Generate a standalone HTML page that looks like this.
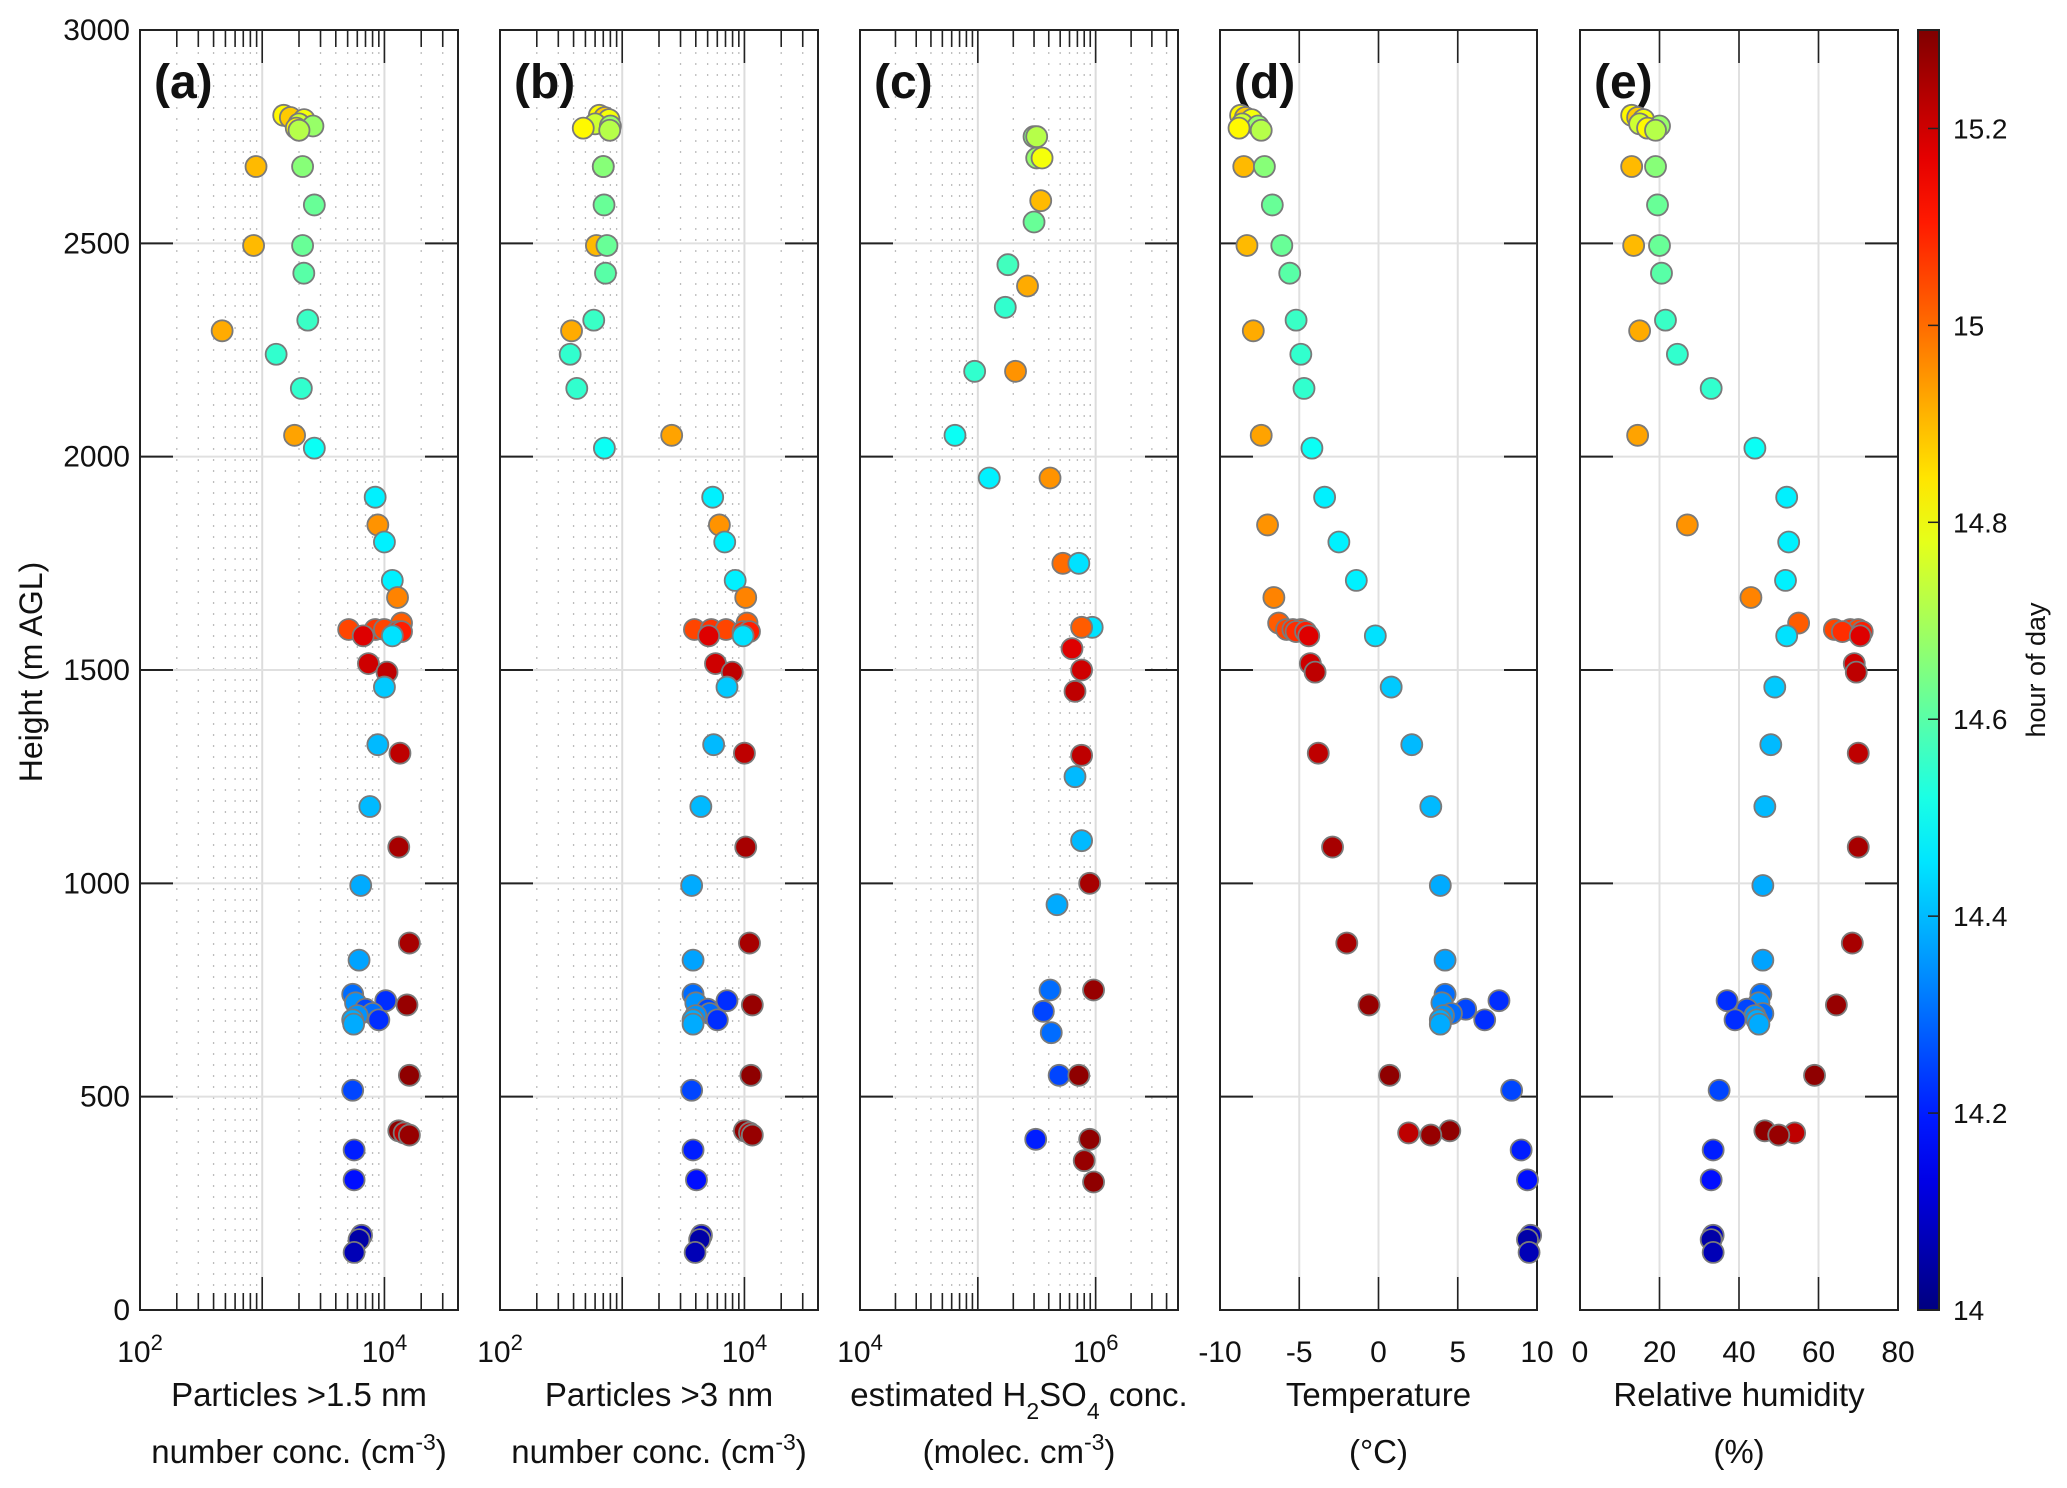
<!DOCTYPE html>
<html><head><meta charset="utf-8"><style>
html,body{margin:0;padding:0;background:#fff;}
svg{display:block;font-family:"Liberation Sans",sans-serif;}
</style></head><body>
<svg id="fig" width="2067" height="1488" viewBox="0 0 2067 1488" xmlns="http://www.w3.org/2000/svg"></svg>
<script>
// ---- data: common profile (height m, hour of day, particles>1.5nm, particles>3nm, temperature, RH)
const heights = [2800,2795,2790,2780,2775,2770,2765,2680,2680,2590,2495,2495,2430,2320,2295,2240,2160,2050,2020,1905,1840,1800,1710,1670,1610,1595,1595,1595,1590,1590,1580,1580,1515,1495,1460,1325,1305,1180,1085,995,860,820,740,725,715,720,705,695,690,680,680,670,550,515,420,415,410,375,305,175,165,135];
const hours = [14.82,14.88,14.8,14.75,14.68,14.82,14.72,14.9,14.66,14.62,14.9,14.62,14.6,14.56,14.92,14.55,14.55,14.93,14.5,14.47,14.95,14.47,14.47,14.97,15.02,15.05,15.07,15.05,15.08,15.1,14.45,15.18,15.2,15.22,14.42,14.4,15.22,14.4,15.25,14.38,15.25,14.37,14.3,14.22,15.27,14.35,14.25,14.3,14.35,14.22,14.38,14.38,15.28,14.25,15.28,15.22,15.27,14.2,14.18,14.08,14.05,14.07];
const pn15 = [1500,1700,2200,2000,2600,1900,2000,890,2140,2670,850,2140,2190,2360,470,1300,2090,1840,2670,8400,8830,10000,11600,12800,13800,5100,8400,10000,12800,13800,11600,6700,7400,10500,10000,8830,13400,7600,13100,6400,16000,6200,5500,10250,15300,5800,7000,8000,6000,9000,5500,5600,16000,5500,13100,14500,16000,5650,5650,6500,6200,5650];
const pn3 = [650,720,780,600,800,480,790,700,700,710,615,750,730,585,385,375,425,2540,715,5500,6240,6900,8400,10250,10500,3900,5350,7070,9750,11000,9750,5100,5800,7950,7200,5600,10000,4400,10250,3700,11000,3800,3800,7200,11600,4000,5000,5200,4000,6000,3800,3800,11300,3700,10000,11000,11600,3800,4050,4450,4300,3950];
const temps = [-8.7,-8.4,-8.0,-8.6,-7.6,-8.8,-7.4,-8.5,-7.2,-6.7,-8.3,-6.1,-5.6,-5.2,-7.9,-4.9,-4.7,-7.4,-4.2,-3.4,-7.0,-2.5,-1.4,-6.6,-6.3,-5.8,-5.4,-4.9,-5.2,-4.6,-0.2,-4.4,-4.3,-4.0,0.8,2.1,-3.8,3.3,-2.9,3.9,-2.0,4.2,4.2,7.6,-0.6,4.0,5.5,4.6,4.1,6.7,3.9,3.9,0.7,8.4,4.5,1.9,3.3,9.0,9.4,9.6,9.4,9.5];
const rhs = [13,14.5,16,15,20,17,19,13,19,19.5,13.5,20,20.5,21.5,15,24.5,33,14.5,44,52,27,52.5,51.7,43,55,64,68,70,66,71,52,70.5,69,69.5,49,48,70,46.5,70,46,68.5,46,45.5,37,64.5,45,42,46,44,39,44.5,45,59,35,46.5,54,50,33.5,33,33.5,33,33.5];
// ---- data: H2SO4 subset
const hH2 = [2750,2750,2700,2700,2600,2550,2450,2400,2350,2200,2200,2050,1950,1950,1750,1750,1600,1600,1550,1500,1450,1300,1250,1100,1000,950,750,750,700,650,550,550,400,400,350,300];
const hourH2 = [14.65,14.72,14.68,14.8,14.9,14.62,14.57,14.92,14.55,14.55,14.95,14.5,14.47,14.95,15.0,14.45,14.45,15.02,15.18,15.2,15.22,15.22,14.4,14.4,15.25,14.38,14.3,15.27,14.25,14.3,14.25,15.28,14.2,15.28,15.27,15.28];
const h2so4 = [300000,316000,316000,351000,342000,300000,180000,264000,171000,94000,209000,64000,125000,410000,527000,720000,935000,760000,630000,760000,668000,760000,668000,760000,890000,470000,410000,960000,360000,420000,490000,720000,310000,890000,800000,960000];
const yTicks = [0,500,1000,1500,2000,2500,3000];
const cbTicks = [14,14.2,14.4,14.6,14.8,15,15.2];

const NS="http://www.w3.org/2000/svg";
const svg=document.getElementById('fig');
function el(tag,attrs,parent){const e=document.createElementNS(NS,tag);for(const k in attrs)e.setAttribute(k,attrs[k]);(parent||svg).appendChild(e);return e;}
const TOP=30, BOT=1310;
const yScale=h=>BOT-(h/3000)*(BOT-TOP);
function jet(v){
  const r=Math.min(1,Math.max(0,1.5-Math.abs(4*v-3)));
  const g=Math.min(1,Math.max(0,1.5-Math.abs(4*v-2)));
  const b=Math.min(1,Math.max(0,1.5-Math.abs(4*v-1)));
  return `rgb(${Math.round(r*255)},${Math.round(g*255)},${Math.round(b*255)})`;
}
const HMIN=14,HMAX=15.3;
const col=h=>jet((h-HMIN)/(HMAX-HMIN));

const panels=[
 {id:'a',x0:140,x1:458,log:true,min:2,max:Math.log10(4e4),xs:pn15,hs:heights,cs:hours,t1:'Particles >1.5 nm',t2:'number conc. (cm<tspan baseline-shift="super" font-size="23">-3</tspan>)'},
 {id:'b',x0:500,x1:818,log:true,min:2,max:Math.log10(4e4),xs:pn3,hs:heights,cs:hours,t1:'Particles >3 nm',t2:'number conc. (cm<tspan baseline-shift="super" font-size="23">-3</tspan>)'},
 {id:'c',x0:860,x1:1178,log:true,min:4,max:Math.log10(5e6),xs:h2so4,hs:hH2,cs:hourH2,t1:'estimated H<tspan baseline-shift="sub" font-size="23">2</tspan>SO<tspan baseline-shift="sub" font-size="23">4</tspan> conc.',t2:'(molec. cm<tspan baseline-shift="super" font-size="23">-3</tspan>)'},
 {id:'d',x0:1220,x1:1537,log:false,min:-10,max:10,step:5,xs:temps,hs:heights,cs:hours,t1:'Temperature',t2:'(°C)'},
 {id:'e',x0:1580,x1:1898,log:false,min:0,max:80,step:20,xs:rhs,hs:heights,cs:hours,t1:'Relative humidity',t2:'(%)'}
];

panels.forEach(p=>{
  const g=el('g',{});
  
  
  const xs=v=>{const t=p.log?Math.log10(v):v;return p.x0+(t-p.min)/(p.max-p.min)*(p.x1-p.x0);};
  if(p.log){
    for(let d=Math.floor(p.min);d<=Math.ceil(p.max);d++){
      for(let m=1;m<10;m++){
        const v=m*Math.pow(10,d);const lv=Math.log10(v);
        if(lv<p.min-1e-9||lv>p.max+1e-9)continue;
        const x=xs(v);
        if(m===1){ if(lv>p.min+1e-6) el('line',{x1:x,x2:x,y1:TOP,y2:BOT,stroke:'#dcdcdc','stroke-width':2},g); }
        else el('line',{x1:x,x2:x,y1:TOP,y2:BOT,stroke:'#bdbdbd','stroke-width':1.3,'stroke-dasharray':'2,9'},g);
      }
    }
  } else {
    for(let v=p.min+p.step;v<p.max;v+=p.step){const x=xs(v);el('line',{x1:x,x2:x,y1:TOP,y2:BOT,stroke:'#e0e0e0','stroke-width':2},g);}
  }
  yTicks.forEach(h=>{if(h>0&&h<3000){const y=yScale(h);el('line',{x1:p.x0,x2:p.x1,y1:y,y2:y,stroke:'#e0e0e0','stroke-width':2},g);}});
  yTicks.forEach(h=>{const y=yScale(h);
    el('line',{x1:p.x0,x2:p.x0+33,y1:y,y2:y,stroke:'#222','stroke-width':2},g);
    el('line',{x1:p.x1-33,x2:p.x1,y1:y,y2:y,stroke:'#222','stroke-width':2},g);});
  if(p.log){
    for(let d=Math.floor(p.min);d<=Math.ceil(p.max);d++){
      for(let m=1;m<10;m++){const v=m*Math.pow(10,d);const lv=Math.log10(v);
        if(lv<p.min-1e-9||lv>p.max+1e-9)continue;const x=xs(v);const L=m===1?33:17;
        el('line',{x1:x,x2:x,y1:BOT,y2:BOT-L,stroke:'#222','stroke-width':1.6},g);
        el('line',{x1:x,x2:x,y1:TOP,y2:TOP+L,stroke:'#222','stroke-width':1.6},g);}
    }
  } else {
    for(let v=p.min;v<=p.max;v+=p.step){const x=xs(v);
      el('line',{x1:x,x2:x,y1:BOT,y2:BOT-33,stroke:'#222','stroke-width':1.6},g);
      el('line',{x1:x,x2:x,y1:TOP,y2:TOP+33,stroke:'#222','stroke-width':1.6},g);}
  }
  el('rect',{x:p.x0,y:TOP,width:p.x1-p.x0,height:BOT-TOP,fill:'none',stroke:'#222','stroke-width':2},g);
  if(p.log){
    for(let d=Math.ceil(p.min);d<=Math.floor(p.max);d+=2){
      const t=el('text',{x:xs(Math.pow(10,d)),y:1362,'font-size':30,'text-anchor':'middle',fill:'#111'},g);
      t.innerHTML='10<tspan baseline-shift="super" font-size="22">'+d+'</tspan>';
      
      
    }
  } else {
    for(let v=p.min;v<=p.max;v+=p.step){
      const t=el('text',{x:xs(v),y:1362,'font-size':30,'text-anchor':'middle',fill:'#111'},g);
      t.textContent=String(v);
      
      
    }
  }
  const cx=(p.x0+p.x1)/2;
  const a1=el('text',{x:cx,y:1406,'font-size':33,'text-anchor':'middle',fill:'#111'},g);a1.innerHTML=p.t1;
  
  
  const a2=el('text',{x:cx,y:1463,'font-size':33,'text-anchor':'middle',fill:'#111'},g);a2.innerHTML=p.t2;
  
  
  const lb=el('text',{x:p.x0+14,y:98,'font-size':48,'font-weight':'bold',fill:'#111'},g);lb.textContent='('+p.id+')';
  
  
  p.xs.forEach((v,i)=>{
    const c=el('circle',{cx:xs(v),cy:yScale(p.hs[i]),r:10.5,fill:col(p.cs[i]),stroke:'#7a7a7a','stroke-width':1.8},g);
    
    
  });
});
yTicks.forEach(h=>{const t=el('text',{x:130,y:yScale(h)+10,'font-size':30,'text-anchor':'end',fill:'#111'});t.textContent=String(h);
  
  });
const yl=el('text',{x:0,y:0,'font-size':32,'text-anchor':'middle',fill:'#111',transform:'translate(42,672) rotate(-90)'});yl.textContent='Height (m AGL)';


const defs=el('defs',{});const lg=el('linearGradient',{id:'jetg',x1:0,y1:1,x2:0,y2:0},defs);
for(let i=0;i<=20;i++){el('stop',{offset:(i/20),'stop-color':jet(i/20)},lg);}
const cb=el('rect',{x:1918,y:TOP,width:21,height:BOT-TOP,fill:'url(#jetg)',stroke:'#222','stroke-width':2});


const cy=h=>BOT-(h-HMIN)/(HMAX-HMIN)*(BOT-TOP);
cbTicks.forEach(h=>{const y=cy(h);el('line',{x1:1928,x2:1939,y1:y,y2:y,stroke:'#222','stroke-width':1.5});
  const t=el('text',{x:1953,y:y+10,'font-size':28,fill:'#111'});t.textContent=String(h);
  
  });
const cl=el('text',{x:0,y:0,'font-size':27,'text-anchor':'middle',fill:'#111',transform:'translate(2045,670) rotate(-90)'});cl.textContent='hour of day';


</script>
</body></html>
